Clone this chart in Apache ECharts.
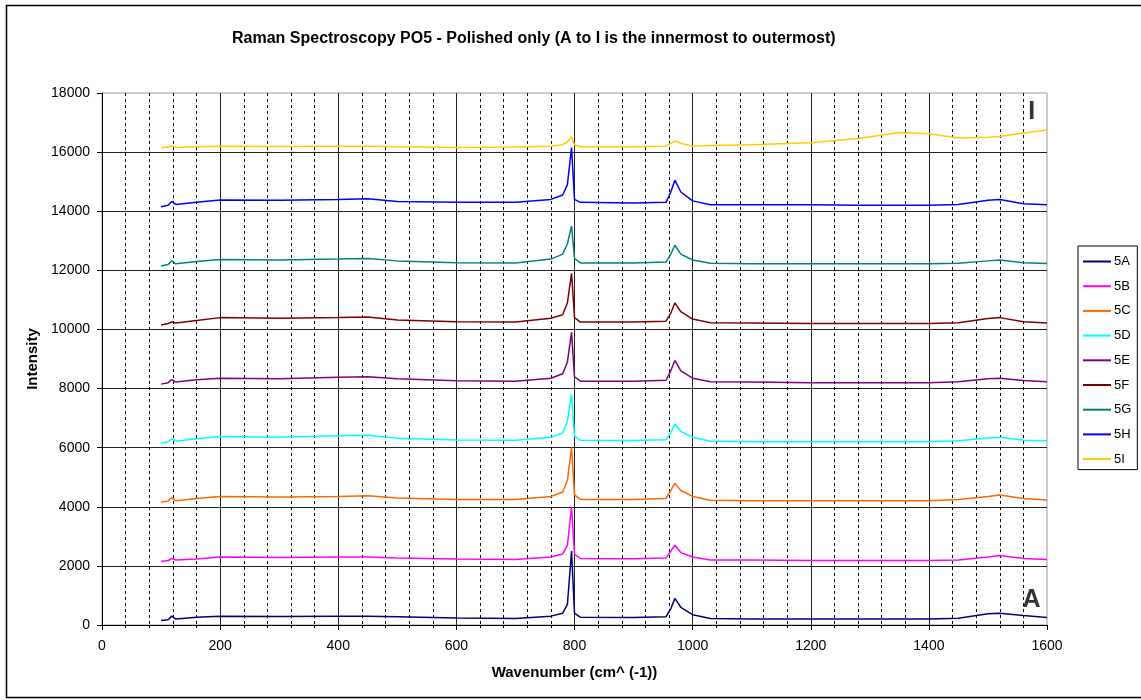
<!DOCTYPE html>
<html>
<head>
<meta charset="utf-8">
<script src="https://cdn.jsdelivr.net/npm/echarts@6/dist/echarts.min.js"></script>
<style>html,body{margin:0;padding:0;background:#fff}#c{width:1141px;height:700px}</style>
</head>
<body>
<div id="c"></div>
<script>
// Wavenumbers shared by all spectra
const wavenumbers = [100, 112, 118, 125, 160, 200, 300, 400, 450, 500, 600, 700, 760, 780, 788, 795, 800, 810, 900, 955, 963, 970, 980, 1000, 1030, 1100, 1200, 1280, 1350, 1400, 1450, 1500, 1520, 1560, 1600];

const s5A = [150, 180, 300, 200, 260, 300, 290, 300, 300, 280, 240, 220, 300, 400, 700, 2500, 400, 260, 250, 280, 550, 900, 600, 350, 220, 200, 200, 200, 200, 200, 230, 380, 400, 320, 250];
const s5B = [2150, 2180, 2250, 2200, 2230, 2300, 2280, 2300, 2300, 2270, 2230, 2220, 2300, 2400, 2700, 4000, 2400, 2250, 2240, 2270, 2500, 2700, 2450, 2300, 2200, 2200, 2180, 2180, 2180, 2180, 2200, 2300, 2350, 2250, 2220];
const s5C = [4150, 4200, 4300, 4200, 4280, 4350, 4330, 4350, 4370, 4300, 4250, 4250, 4350, 4500, 4900, 6000, 4400, 4250, 4250, 4280, 4550, 4800, 4550, 4350, 4220, 4200, 4200, 4200, 4200, 4200, 4250, 4350, 4400, 4280, 4230];
const s5D = [6150, 6200, 6300, 6220, 6300, 6380, 6350, 6400, 6420, 6320, 6260, 6250, 6350, 6500, 6900, 7800, 6400, 6250, 6240, 6270, 6500, 6800, 6550, 6350, 6220, 6200, 6200, 6200, 6200, 6200, 6230, 6330, 6350, 6250, 6230];
const s5E = [8150, 8200, 8300, 8220, 8300, 8350, 8330, 8380, 8400, 8330, 8260, 8250, 8350, 8500, 8900, 9900, 8400, 8250, 8250, 8280, 8600, 8950, 8600, 8350, 8230, 8220, 8200, 8200, 8200, 8200, 8230, 8330, 8350, 8270, 8230];
const s5F = [10150, 10200, 10250, 10220, 10300, 10400, 10380, 10400, 10420, 10320, 10260, 10250, 10380, 10500, 10900, 11900, 10400, 10250, 10250, 10280, 10550, 10900, 10600, 10350, 10230, 10220, 10200, 10200, 10200, 10200, 10230, 10370, 10400, 10260, 10220];
const s5G = [12150, 12200, 12320, 12220, 12300, 12370, 12350, 12380, 12400, 12320, 12260, 12250, 12380, 12550, 12900, 13500, 12400, 12250, 12250, 12280, 12550, 12850, 12550, 12350, 12240, 12220, 12220, 12220, 12220, 12220, 12240, 12320, 12350, 12260, 12230];
const s5H = [14150, 14200, 14330, 14230, 14300, 14380, 14370, 14400, 14420, 14330, 14300, 14300, 14400, 14550, 14900, 16150, 14400, 14300, 14280, 14300, 14650, 15050, 14650, 14350, 14220, 14220, 14220, 14200, 14200, 14200, 14230, 14370, 14400, 14250, 14220];
const s5I = [16150, 16170, 16220, 16160, 16180, 16200, 16190, 16200, 16200, 16180, 16160, 16170, 16200, 16250, 16350, 16520, 16250, 16180, 16180, 16200, 16300, 16380, 16300, 16200, 16220, 16250, 16320, 16460, 16660, 16620, 16480, 16500, 16530, 16650, 16750];

const seriesNames = ['5A', '5B', '5C', '5D', '5E', '5F', '5G', '5H', '5I'];
const seriesValues = [s5A, s5B, s5C, s5D, s5E, s5F, s5G, s5H, s5I];
const seriesColors = ['#000080', '#FF00FF', '#FF6600', '#00FFFF', '#800080', '#800000', '#008080', '#0000FF', '#FFCC00'];

// Annotation labels: [wavenumber, intensity, text]
const annotations = [[1574, 17350, 'I'], [1574, 850, 'A']];

const chart = echarts.init(document.getElementById('c'), null, {renderer: 'canvas'});
const FONT = 'Arial, "Liberation Sans", sans-serif';

const lineSeries = seriesNames.map((n, i) => ({
  name: n,
  type: 'line',
  data: wavenumbers.map((x, k) => [x, seriesValues[i][k]]),
  showSymbol: false,
  symbol: 'none',
  lineStyle: {width: 1.5, color: seriesColors[i]},
  itemStyle: {color: seriesColors[i]},
  z: 3
}));

lineSeries.push({
  name: 'labels',
  type: 'scatter',
  data: annotations.map(a => ({value: [a[0], a[1]], name: a[2]})),
  symbolSize: 1,
  itemStyle: {color: 'rgba(0,0,0,0)'},
  label: {show: true, position: 'inside', formatter: p => p.name, fontFamily: FONT, fontWeight: 'bold', fontSize: 25, color: '#000'},
  z: 4
});

chart.setOption({
  animation: false,
  backgroundColor: '#fff',
  title: {
    text: 'Raman Spectroscopy PO5 - Polished only (A to I is the innermost to outermost)',
    left: 227, top: 26,
    textStyle: {fontFamily: FONT, fontWeight: 'bold', fontSize: 16, color: '#000'}
  },
  legend: {
    data: seriesNames,
    orient: 'vertical',
    left: 1078, top: 246,
    width: 58,
    padding: [9, 6, 4, 5],
    itemGap: 11.7,
    itemWidth: 28, itemHeight: 2,
    icon: 'rect',
    borderColor: '#000', borderWidth: 1,
    textStyle: {fontFamily: FONT, fontSize: 13, color: '#000', padding: [0, 0, 0, -2]}
  },
  grid: {left: 102, right: 94, top: 93, bottom: 75, show: true, borderColor: '#999', borderWidth: 1, backgroundColor: '#fff'},
  xAxis: {
    type: 'value', min: 0, max: 1600, interval: 200,
    name: 'Wavenumber (cm^ (-1))', nameLocation: 'middle', nameGap: 40,
    nameTextStyle: {fontFamily: FONT, fontWeight: 'bold', fontSize: 15, color: '#000'},
    axisLine: {show: true, onZero: false, lineStyle: {color: '#000', width: 1}},
    axisTick: {show: true, length: 5, lineStyle: {color: '#000'}},
    minorTick: {show: true, splitNumber: 5, length: 3, lineStyle: {color: '#000'}},
    axisLabel: {fontFamily: FONT, fontSize: 14, color: '#000', margin: 14, formatter: v => String(v)},
    splitLine: {show: true, showMinLine: false, showMaxLine: false, lineStyle: {color: '#222', width: 1}},
    minorSplitLine: {show: true, lineStyle: {color: '#000', width: 1, type: [3, 3]}}
  },
  yAxis: {
    type: 'value', min: 0, max: 18000, interval: 2000,
    name: 'Intensity', nameLocation: 'middle', nameGap: 62,
    nameTextStyle: {fontFamily: FONT, fontWeight: 'bold', fontSize: 15, color: '#000'},
    axisLine: {show: true, lineStyle: {color: '#000', width: 1}},
    axisTick: {show: true, length: 5, lineStyle: {color: '#000'}},
    axisLabel: {fontFamily: FONT, fontSize: 14, color: '#000', margin: 12, formatter: v => String(v)},
    splitLine: {show: true, showMinLine: false, showMaxLine: false, lineStyle: {color: '#222', width: 1}}
  },
  graphic: [{
    type: 'rect', silent: true, z: -10,
    shape: {x: 6.5, y: 5.5, width: 1140, height: 692},
    style: {fill: 'none', stroke: '#000', lineWidth: 1.5}
  }],
  series: lineSeries
});
</script>
</body>
</html>
